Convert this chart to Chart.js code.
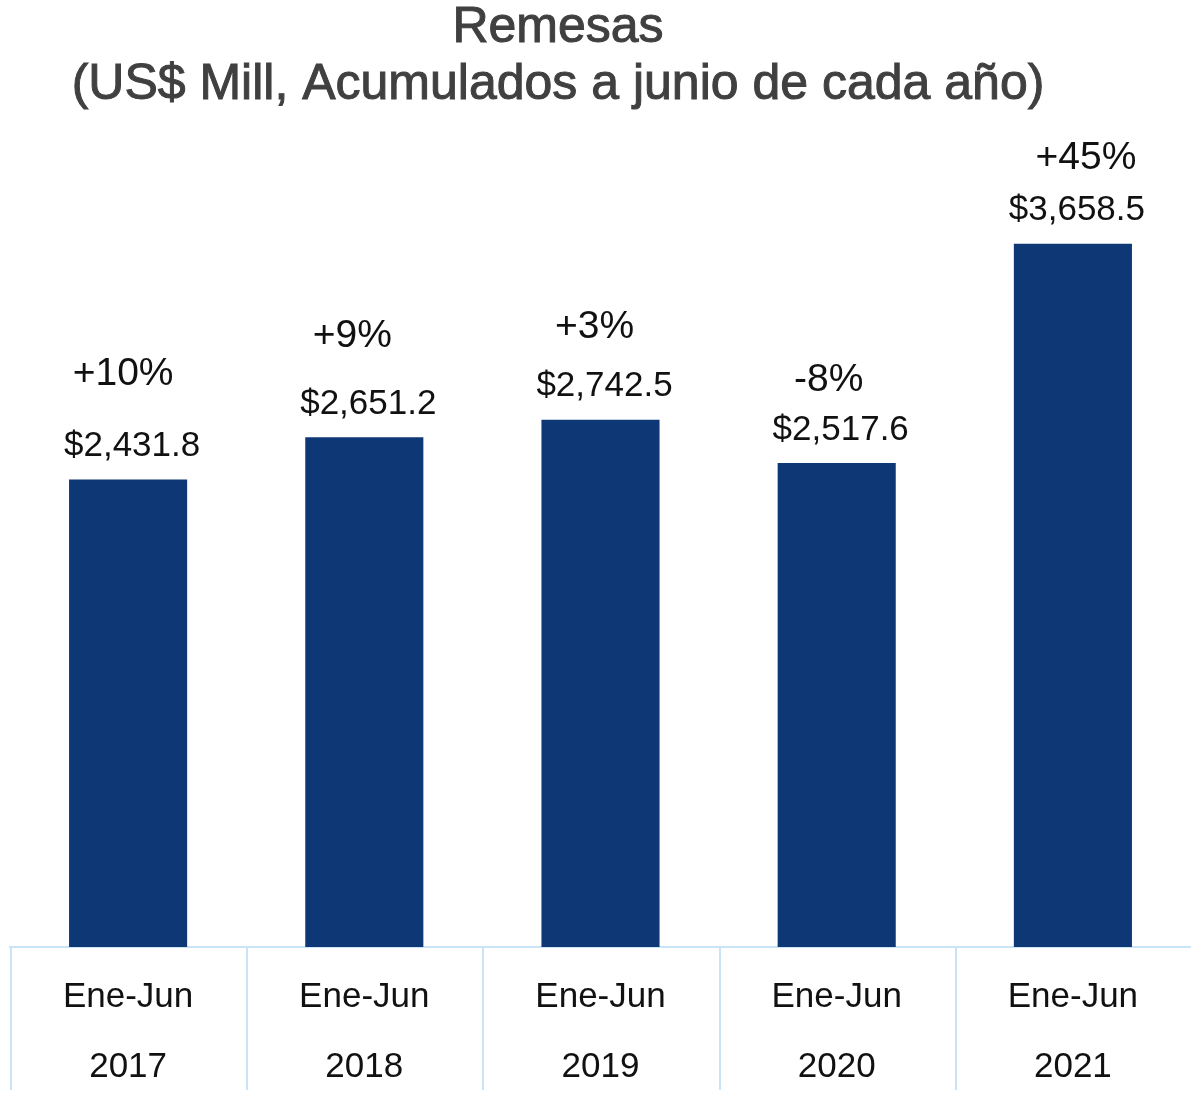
<!DOCTYPE html>
<html>
<head>
<meta charset="utf-8">
<script src="https://cdn.jsdelivr.net/npm/chart.js@4"></script>
<style>
  body { margin: 0; background: #fff; overflow: hidden; }
  #wrap { width: 1191px; height: 1109px; position: relative; }
</style>
</head>
<body>
<div id="wrap"><canvas id="graph"></canvas></div>
<script>
const periods = ["Ene-Jun", "Ene-Jun", "Ene-Jun", "Ene-Jun", "Ene-Jun"];
const years = ["2017", "2018", "2019", "2020", "2021"];
const remesas = [2431.8, 2651.2, 2742.5, 2517.6, 3658.5];
const growth = ["+10%", "+9%", "+3%", "-8%", "+45%"];
const yTicks = [0, 4000];

// where the growth labels sit relative to the bar top (dx, dy in px)
const growthNudge = [[-5, -105], [-12, -101], [-6, -93], [-8, -83], [13, -85]];

const titleLines = ["Remesas", "(US$ Mill, Acumulados a junio de cada año)"];
const lightBlue = "#c8e4f6";

const fmt = (v) => "$" + v.toLocaleString("en-US", { minimumFractionDigits: 1, maximumFractionDigits: 1 });

const labelsPlugin = {
  id: "labels",
  afterDatasetsDraw(chart) {
    const ctx = chart.ctx;
    const meta = chart.getDatasetMeta(0);
    const xs = chart.scales.x;
    ctx.save();

    // category separators below the axis
    ctx.strokeStyle = lightBlue;
    ctx.lineWidth = 2;
    const step = (xs.right - xs.left) / years.length;
    for (let i = 0; i <= years.length; i++) {
      const x = Math.round(xs.left + i * step) + 1;
      ctx.beginPath();
      ctx.moveTo(x, xs.top);
      ctx.lineTo(x, 1090);
      ctx.stroke();
    }

    ctx.fillStyle = "#111";
    ctx.textAlign = "center";
    ctx.textBaseline = "middle";
    meta.data.forEach((bar, i) => {
      ctx.font = '35px "Liberation Sans"';
      ctx.fillText(fmt(remesas[i]), bar.x + 4, bar.y - 33);
      ctx.font = '39px "Liberation Sans"';
      ctx.fillText(growth[i], bar.x + growthNudge[i][0], bar.y + growthNudge[i][1]);
    });

    // title
    ctx.fillStyle = "#404040";
    ctx.strokeStyle = "#404040";
    ctx.lineWidth = 1;
    ctx.font = '50px "Liberation Sans"';
    ctx.fillText(titleLines[0], 558, 28);
    ctx.strokeText(titleLines[0], 558, 28);
    ctx.fillText(titleLines[1], 558, 85);
    ctx.strokeText(titleLines[1], 558, 85);
    ctx.restore();
  },
};

const ctx = document.getElementById("graph").getContext("2d");

const chart = new Chart(ctx, {
  type: "bar",
  data: {
    labels: years.map((y, i) => [periods[i], y]),
    datasets: [
      {
        label: "Remesas",
        backgroundColor: "#0d3775",
        data: remesas,
        barPercentage: 0.5,
        categoryPercentage: 1,
      },
    ],
  },
  options: {
    responsive: true,
    maintainAspectRatio: false,
    animation: false,
    layout: { padding: { left: 10, right: 0, top: 178, bottom: 0 } },
    plugins: {
      legend: { display: false },
      title: { display: false },
      tooltip: { enabled: false },
    },
    scales: {
      x: {
        grid: { display: false },
        border: { color: lightBlue, width: 2 },
        ticks: {
          padding: 7,
          color: "#111",
          font: { family: "Liberation Sans", size: 35, lineHeight: 2 },
        },
      },
      y: {
        display: false,
        min: yTicks[0],
        max: yTicks[1],
      },
    },
  },
  plugins: [labelsPlugin],
});
</script>
</body>
</html>
